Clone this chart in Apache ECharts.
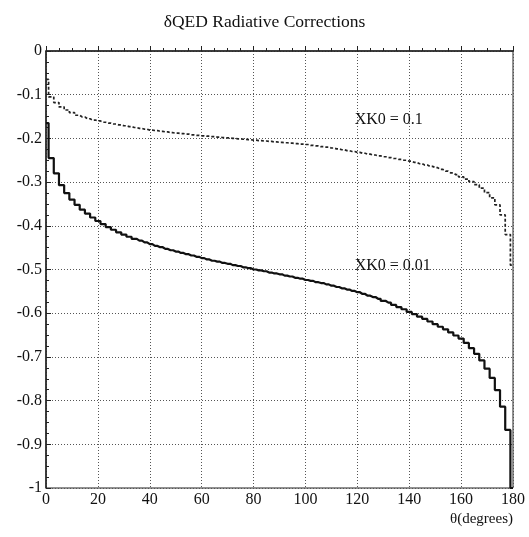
<!DOCTYPE html>
<html lang="en">
<head>
  <meta charset="UTF-8">
  <title>QED Radiative Corrections</title>
  <style>
    html, body { margin: 0; padding: 0; background: #fff; }
    #chart { width: 529px; height: 537px; }
  </style>
</head>
<body>
  <div id="chart"></div>
  <script src="https://cdn.jsdelivr.net/npm/echarts@6/dist/echarts.min.js"></script>
  <script>
    // bin centres in degrees (2 degree bins)
    var theta = [];
    for (var t = 0; t <= 180; t += 2) theta.push(t);

    // XK0 = 0.01 (solid histogram)
    var xk001 = [
      -0.165, -0.245, -0.280, -0.307, -0.325, -0.340, -0.352, -0.363, -0.372, -0.381,
      -0.389, -0.396, -0.403, -0.409, -0.415, -0.420, -0.425, -0.430, -0.434, -0.438,
      -0.442, -0.446, -0.449, -0.453, -0.456, -0.459, -0.462, -0.465, -0.468, -0.471,
      -0.474, -0.477, -0.480, -0.482, -0.485, -0.487, -0.490, -0.492, -0.495, -0.497,
      -0.500, -0.502, -0.504, -0.507, -0.509, -0.511, -0.514, -0.516, -0.519, -0.521,
      -0.524, -0.526, -0.529, -0.531, -0.534, -0.537, -0.540, -0.543, -0.546, -0.549,
      -0.552, -0.556, -0.560, -0.563, -0.567, -0.572, -0.576, -0.581, -0.586, -0.591,
      -0.597, -0.602, -0.608, -0.613, -0.619, -0.625, -0.631, -0.637, -0.644, -0.651,
      -0.658, -0.668, -0.680, -0.693, -0.708, -0.727, -0.748, -0.776, -0.814, -0.867,
      -1.0
    ];

    // XK0 = 0.1 (dashed histogram)
    var xk01 = [
      -0.065, -0.105, -0.118, -0.128, -0.135, -0.141, -0.147, -0.151, -0.155, -0.158,
      -0.160, -0.163, -0.165, -0.167, -0.169, -0.171, -0.173, -0.175, -0.177, -0.179,
      -0.181, -0.182, -0.184, -0.185, -0.187, -0.188, -0.189, -0.190, -0.192, -0.193,
      -0.194, -0.195, -0.196, -0.197, -0.198, -0.199, -0.200, -0.201, -0.202, -0.203,
      -0.204, -0.205, -0.206, -0.207, -0.208, -0.209, -0.210, -0.211, -0.212, -0.213,
      -0.214, -0.216, -0.217, -0.219, -0.220, -0.222, -0.224, -0.226, -0.228, -0.230,
      -0.232, -0.234, -0.236, -0.238, -0.240, -0.242, -0.244, -0.246, -0.248, -0.250,
      -0.252, -0.255, -0.258, -0.261, -0.264, -0.267, -0.271, -0.275, -0.279, -0.283,
      -0.288, -0.293, -0.299, -0.306, -0.314, -0.324, -0.336, -0.352, -0.375, -0.420,
      -0.490
    ];

    var labelAnchors = [
      { text: 'XK0 = 0.1', coord: [119, -0.158] },
      { text: 'XK0 = 0.01', coord: [119, -0.492] }
    ];

    function pairs(ys) {
      return theta.map(function (x, i) { return [x, ys[i]]; });
    }

    var font = '"Liberation Serif", "Times New Roman", serif';
    var ink = '#111';

    var chart = echarts.init(document.getElementById('chart'));
    chart.setOption({
      animation: false,
      backgroundColor: '#fff',
      title: {
        text: 'δQED Radiative Corrections',
        left: 'center',
        top: 8,
        textStyle: { fontFamily: font, fontSize: 17.5, fontWeight: 'normal', color: ink }
      },
      grid: {
        left: 46, right: 16, top: 51, bottom: 49,
        show: true, borderColor: '#222', borderWidth: 1
      },
      xAxis: {
        type: 'value', min: 0, max: 180, interval: 20,
        axisLine: { lineStyle: { color: '#222', width: 1.5 } },
        axisTick: { inside: true, length: 5, lineStyle: { color: '#222' } },
        minorTick: { show: true, splitNumber: 4, length: 3, lineStyle: { color: '#222' } },
        axisLabel: { fontFamily: font, fontSize: 16, color: ink, margin: 4 },
        splitLine: { show: true, lineStyle: { color: '#555', type: [1, 2], width: 1 } }
      },
      yAxis: {
        type: 'value', min: -1, max: 0, interval: 0.1,
        axisLine: { show: true, lineStyle: { color: '#222', width: 1.5 } },
        axisTick: { show: true, inside: true, length: 5, lineStyle: { color: '#222' } },
        minorTick: { show: true, splitNumber: 4, length: 3, lineStyle: { color: '#222' } },
        axisLabel: { fontFamily: font, fontSize: 16, color: ink, margin: 4 },
        splitLine: { show: true, lineStyle: { color: '#555', type: [1, 2], width: 1 } }
      },
      graphic: [{
        type: 'text',
        right: 16,
        top: 512,
        style: { text: 'θ(degrees)', fontFamily: font, fontSize: 15, fill: ink }
      }],
      series: [{
        name: 'XK0 = 0.1',
        type: 'line',
        step: 'middle',
        showSymbol: false,
        data: pairs(xk01),
        lineStyle: { color: '#222', width: 1.7, type: [3, 2] },
        markPoint: {
          symbol: 'circle', symbolSize: 0,
          label: { show: true, position: 'right', distance: 0, formatter: '{b}',
                   fontFamily: font, fontSize: 16, color: ink },
          data: [{ name: labelAnchors[0].text, coord: labelAnchors[0].coord }]
        }
      }, {
        name: 'XK0 = 0.01',
        type: 'line',
        step: 'middle',
        showSymbol: false,
        data: pairs(xk001),
        lineStyle: { color: '#111', width: 2.2 },
        markPoint: {
          symbol: 'circle', symbolSize: 0,
          label: { show: true, position: 'right', distance: 0, formatter: '{b}',
                   fontFamily: font, fontSize: 16, color: ink },
          data: [{ name: labelAnchors[1].text, coord: labelAnchors[1].coord }]
        }
      }]
    });
  </script>
</body>
</html>
